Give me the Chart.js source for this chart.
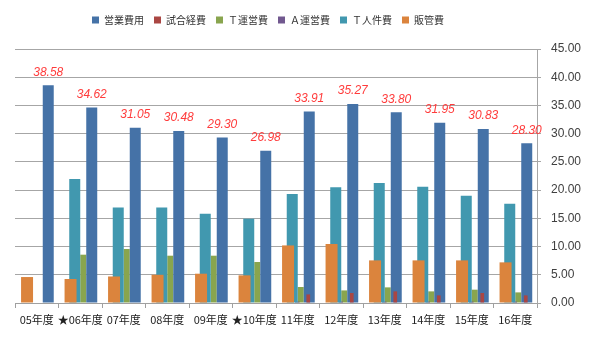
<!DOCTYPE html>
<html>
<head>
<meta charset="utf-8">
<script src="https://cdn.jsdelivr.net/npm/chart.js@4/dist/chart.umd.min.js"></script>
<style>
  html, body { margin: 0; padding: 0; background: #fff; }
  #wrap { width: 600px; height: 338px; }
</style>
</head>
<body>
<div id="wrap"><canvas id="costChart"></canvas></div>
<script>
/* ================= DATA ================= */
const years = ["05年度", "★06年度", "07年度", "08年度", "09年度", "★10年度",
               "11年度", "12年度", "13年度", "14年度", "15年度", "16年度"];
const eigyoHiyo = [38.58, 34.62, 31.05, 30.48, 29.30, 26.98, 33.91, 35.27, 33.80, 31.95, 30.83, 28.30];
const shiaiKeihi = [null, null, null, null, null, null, 1.52, 1.77, 2.06, 1.35, 1.77, 1.35];
const tUneihi = [null, 8.56, 9.57, 8.38, 8.38, 7.26, 2.83, 2.23, 2.77, 2.06, 2.36, 1.88];
const aUneihi = [null, null, null, null, null, null, 0.25, 0.25, 0.25, 0.25, 0.25, 0.25];
const tJinkenhi = [null, 21.97, 16.94, 16.94, 15.82, 14.94, 19.30, 20.50, 21.26, 20.60, 19.00, 17.60];
const hankanhi = [4.60, 4.25, 4.70, 5.00, 5.19, 4.90, 10.20, 10.45, 7.55, 7.55, 7.55, 7.20];
const yTicks = { min: 0, max: 45, step: 5 };

const FONT = '"Noto Sans CJK JP", "Noto Sans", sans-serif';

/* ---- value labels above 営業費用 bars ---- */
const valueLabels = {
    id: "valueLabels",
    afterDatasetsDraw(chart) {
        const meta = chart.getDatasetMeta(0);
        const ctx = chart.ctx;
        ctx.save();
        ctx.font = "italic 12px 'Liberation Sans', Arial, sans-serif";
        ctx.fillStyle = "#ff3c3c";
        ctx.textAlign = "center";
        ctx.textBaseline = "middle";
        meta.data.forEach((bar, i) => {
            ctx.fillText(eigyoHiyo[i].toFixed(2), bar.x, bar.y - 13);
        });
        ctx.restore();
    }
};

/* ---- legend spacing / position like the original ---- */
const legendTweak = {
    id: "legendTweak",
    beforeInit(chart) {
        const legend = chart.legend;
        const fit = legend.fit;
        legend.fit = function () {
            fit.call(this);
            this.height += 14;
        };
    },
    afterLayout(chart) {
        chart.legend.right = chart.chartArea.right - 16;
    }
};

/* ================= CHART ================= */
// bars overlap like the Excel original: each series gets its own
// category/bar percentage, "order" sets slot and which bar is drawn on top
const ctx = document.getElementById("costChart").getContext("2d");
new Chart(ctx, {
    type: "bar",
    data: {
        labels: years,
        datasets: [
            { label: "営業費用", data: eigyoHiyo, backgroundColor: "#4572a7",
              order: 5, categoryPercentage: 1.057, barPercentage: 1.434 },
            { label: "試合経費", data: shiaiKeihi, backgroundColor: "#aa4643",
              order: 4, categoryPercentage: 2.9, barPercentage: 0.176 },
            { label: "Ｔ運営費", data: tUneihi, backgroundColor: "#89a54e",
              order: 6, categoryPercentage: 0.1655, barPercentage: 5 },
            { label: "Ａ運営費", data: aUneihi, backgroundColor: "#71588f",
              order: 3, categoryPercentage: 0.138, barPercentage: 4.6 },
            { label: "Ｔ人件費", data: tJinkenhi, backgroundColor: "#4198af",
              order: 2, categoryPercentage: 0.506, barPercentage: 3.0 },
            { label: "販管費", data: hankanhi, backgroundColor: "#db843d",
              order: 1, categoryPercentage: 0.535, barPercentage: 3.09 }
        ]
    },
    options: {
        responsive: true,
        maintainAspectRatio: false,
        animation: false,
        layout: { padding: { left: 15, top: 5, right: 0, bottom: 0 } },
        plugins: {
            tooltip: { enabled: false },
            legend: {
                position: "top",
                labels: {
                    boxWidth: 7,
                    boxHeight: 7,
                    padding: 10,
                    color: "#333",
                    font: { family: FONT, size: 10 },
                    sort: (a, b) => a.datasetIndex - b.datasetIndex
                }
            }
        },
        scales: {
            x: {
                grid: { display: true, drawOnChartArea: false, offset: true,
                        tickLength: 5, color: "#a0a0a0" },
                border: { color: "#a0a0a0" },
                ticks: { color: "#222", padding: 5, maxRotation: 0, autoSkip: false,
                         font: { family: FONT, size: 11 } },
                afterFit(scale) { scale.height = 35; }
            },
            y: {
                position: "right",
                min: yTicks.min,
                max: yTicks.max,
                grid: { color: "#a6a6a6", tickLength: 4 },
                border: { color: "#a6a6a6" },
                ticks: {
                    stepSize: yTicks.step,
                    padding: 10,
                    color: "#404040",
                    font: { family: "'Liberation Sans', Arial, sans-serif", size: 12 },
                    callback: v => v.toFixed(2)
                },
                afterFit(scale) { scale.width = 63; }
            }
        }
    },
    plugins: [valueLabels, legendTweak]
});
</script>
</body>
</html>
